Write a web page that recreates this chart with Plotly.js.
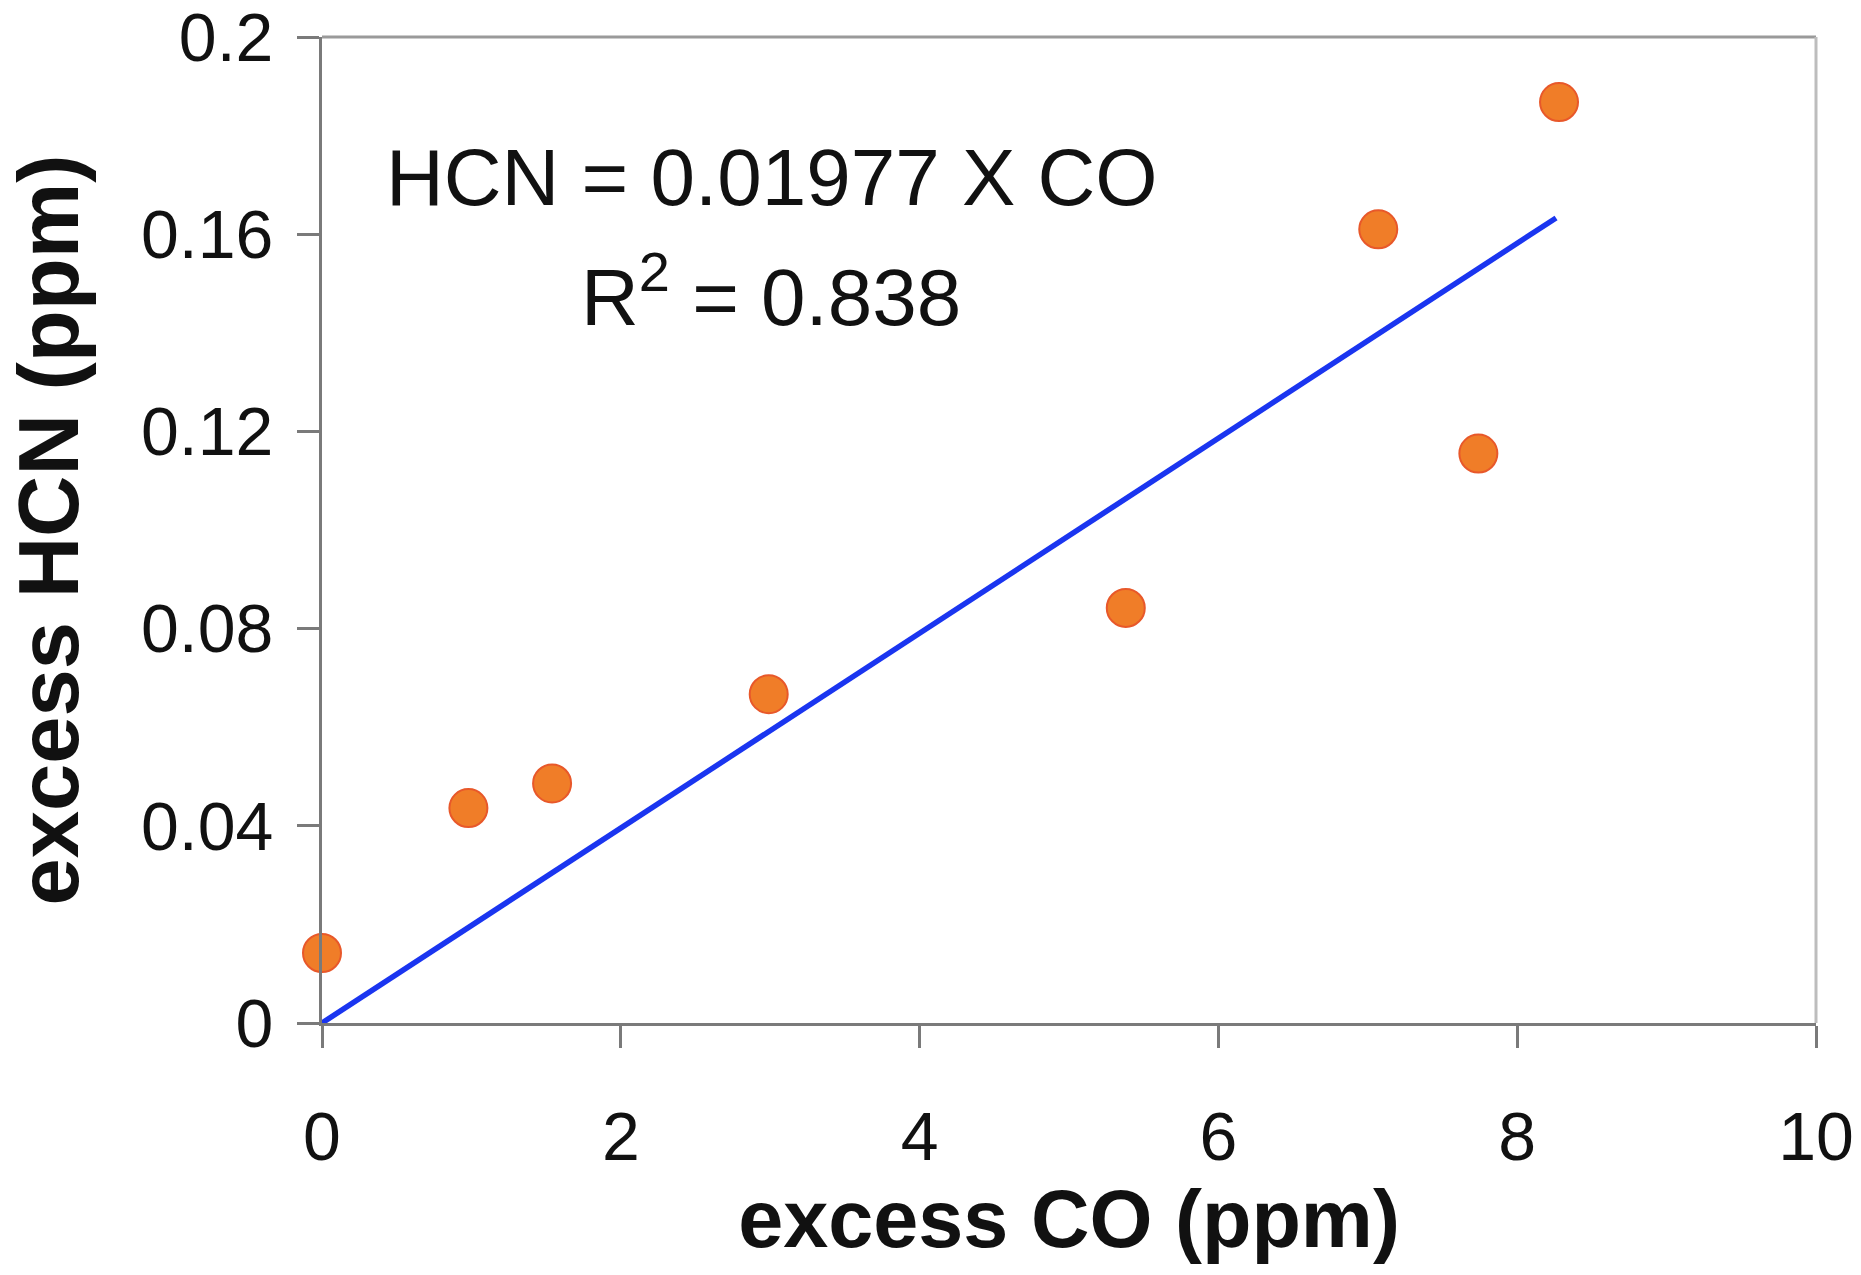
<!DOCTYPE html>
<html>
<head>
<meta charset="utf-8">
<script src="https://cdn.plot.ly/plotly-3.0.1.min.js"></script>
<style>html,body{margin:0;padding:0;background:#fff;}#chart{width:1861px;height:1275px;}</style>
</head>
<body>
<div id="chart"></div>
<script>
// Data
const excessCO  = [0.0, 0.98, 1.54, 2.99, 5.38, 7.07, 7.74, 8.28];
const excessHCN = [0.0142, 0.0436, 0.0486, 0.0667, 0.0842, 0.161, 0.1155, 0.1868];
// Fit line endpoints (HCN = 0.01977 x CO)
const fitX = [0, 8.26];
const fitY = [0, 0.1633];
const xTicks = [0, 2, 4, 6, 8, 10];
const yTicks = [0, 0.04, 0.08, 0.12, 0.16, 0.2];
const yTickText = ['0', '0.04', '0.08', '0.12', '0.16', '0.2'];

const FONT = 'Liberation Sans, Arial, sans-serif';

const traces = [
  {
    x: fitX, y: fitY, mode: 'lines', type: 'scatter',
    line: {color: '#1a35f0', width: 5.5}, hoverinfo: 'skip', showlegend: false
  },
  {
    x: excessCO, y: excessHCN, mode: 'markers', type: 'scatter',
    marker: {size: 38, color: '#f07d28', line: {color: '#e8582a', width: 2}},
    cliponaxis: false, showlegend: false
  }
];

const layout = {
  width: 1861, height: 1275,
  margin: {l: 322, r: 45, t: 37, b: 252},
  paper_bgcolor: '#ffffff', plot_bgcolor: '#ffffff',
  font: {family: FONT, color: '#111111'},
  showlegend: false,
  xaxis: {
    range: [0, 10], tickvals: xTicks, ticktext: xTicks.map(String),
    showgrid: false, zeroline: false,
    showline: true, linecolor: '#7a7a7a', linewidth: 3,
    ticks: 'outside', ticklen: 22, tickwidth: 3, tickcolor: '#7a7a7a',
    tickfont: {family: FONT, size: 68, color: '#111111'},
    ticklabelstandoff: 30, ticklabeloverflow: 'allow',
    title: {text: '<b>excess CO (ppm)</b>', font: {family: FONT, size: 81, color: '#111111'}, standoff: 16}
  },
  yaxis: {
    range: [0, 0.2], tickvals: yTicks, ticktext: yTickText,
    showgrid: false, zeroline: false,
    showline: true, linecolor: '#7a7a7a', linewidth: 3,
    ticks: 'outside', ticklen: 22, tickwidth: 3, tickcolor: '#7a7a7a',
    tickfont: {family: FONT, size: 68, color: '#111111'},
    ticklabelstandoff: 10, ticklabeloverflow: 'allow',
    title: {text: '<b>excess HCN (ppm)</b>', font: {family: FONT, size: 85, color: '#111111'}, standoff: 35}
  },
  shapes: [
    {type: 'line', xref: 'paper', yref: 'paper', x0: 0, x1: 1, y0: 1, y1: 1, line: {color: '#9a9a9a', width: 3}, layer: 'below'},
    {type: 'line', xref: 'paper', yref: 'paper', x0: 1, x1: 1, y0: 0, y1: 1, line: {color: '#bdbdbd', width: 3}, layer: 'below'}
  ],
  annotations: [
    {xref: 'paper', yref: 'paper', x: 0.3007, y: 0.857, xanchor: 'center', yanchor: 'middle',
     text: 'HCN = 0.01977 X CO', showarrow: false, font: {family: FONT, size: 80, color: '#111111'}},
    {xref: 'paper', yref: 'paper', x: 0.3007, y: 0.742, xanchor: 'center', yanchor: 'middle',
     text: 'R<sup>2</sup> = 0.838', showarrow: false, font: {family: FONT, size: 80, color: '#111111'}}
  ]
};

Plotly.newPlot('chart', traces, layout, {displayModeBar: false, staticPlot: true});
</script>
</body>
</html>
